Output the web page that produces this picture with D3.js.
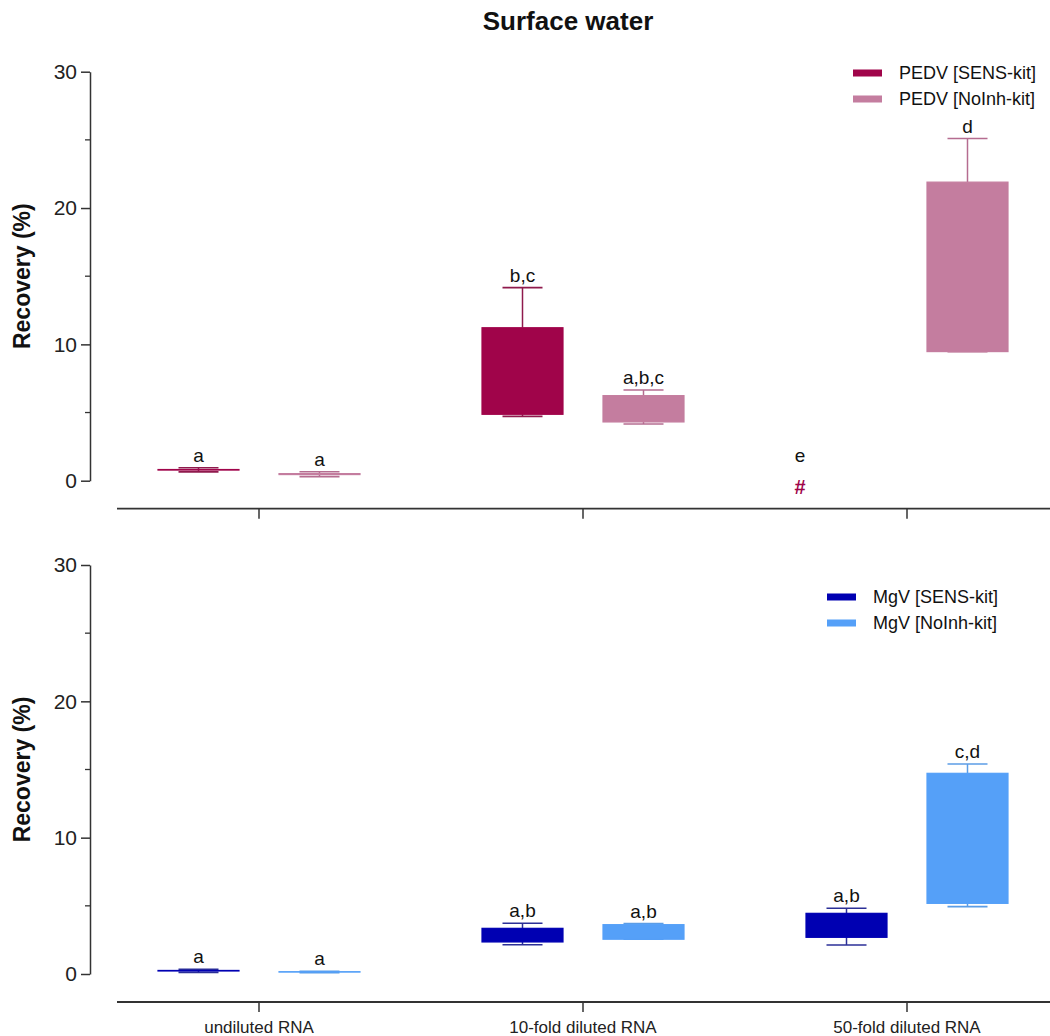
<!DOCTYPE html>
<html>
<head>
<meta charset="utf-8">
<script src="https://cdn.jsdelivr.net/npm/d3@7"></script>
<style>
  html, body { margin: 0; padding: 0; background: #fff; }
  svg { display: block; font-family: "Liberation Sans", Arial, sans-serif; }
</style>
</head>
<body>
<svg id="chart" width="1050" height="1036"></svg>
<script>
// Categories along the x axis
const categories = ["undiluted RNA", "10-fold diluted RNA", "50-fold diluted RNA"];
const kits = ["SENS", "NoInh"];

// Recovery (%) per category: [min, lower quartile, upper quartile, max]; null = not detected
const pedvSens  = [[0.65, 0.78, 0.82, 0.95], [4.72, 4.87, 11.22, 14.16], null];
const pedvNoInh = [[0.30, 0.45, 0.52, 0.66], [4.16, 4.31, 6.24, 6.65], [9.47, 9.47, 21.9, 25.1]];
const mgvSens   = [[0.12, 0.22, 0.26, 0.34], [2.15, 2.35, 3.35, 3.72], [2.13, 2.69, 4.45, 4.82]];
const mgvNoInh  = [[0.10, 0.14, 0.17, 0.20], [2.55, 2.55, 3.62, 3.70], [4.94, 5.18, 14.72, 15.4]];

// Significance letters
const pedvSensLetters  = ["a", "b,c", "e"];
const pedvNoInhLetters = ["a", "a,b,c", "d"];
const mgvSensLetters   = ["a", "a,b", "a,b"];
const mgvNoInhLetters  = ["a", "a,b", "c,d"];

// Axis ticks
const yMajorTicks = [0, 10, 20, 30];
const yMinorTicks = [5, 15, 25];

const svg = d3.select("#chart");

const x0 = d3.scaleBand().domain(categories).range([97, 1069]);
const x1 = d3.scalePoint().domain(kits).range([-60.5, 60.5]);
const boxW = 81, capW = 40;

svg.append("text")
  .attr("x", 568).attr("y", 30)
  .attr("text-anchor", "middle")
  .attr("font-size", 26).attr("font-weight", "bold").attr("fill", "#111")
  .text("Surface water");

const panels = [
  {
    top: 71.7, bottom: 480.7,
    series: [
      { key: "SENS", name: "PEDV [SENS-kit]", data: pedvSens, letters: pedvSensLetters, fill: "#a0044a", line: "#8f1a4d" },
      { key: "NoInh", name: "PEDV [NoInh-kit]", data: pedvNoInh, letters: pedvNoInhLetters, fill: "#c47d9f", line: "#b56c90" }
    ],
    legend: { x: 853, y: 73 },
    showLabels: false
  },
  {
    top: 565, bottom: 974,
    series: [
      { key: "SENS", name: "MgV [SENS-kit]", data: mgvSens, letters: mgvSensLetters, fill: "#0000b2", line: "#2b2f97" },
      { key: "NoInh", name: "MgV [NoInh-kit]", data: mgvNoInh, letters: mgvNoInhLetters, fill: "#55a0f8", line: "#5b9de6" }
    ],
    legend: { x: 827, y: 597 },
    showLabels: true
  }
];

panels.forEach(p => {
  const y = d3.scaleLinear().domain([0, 30]).range([p.bottom, p.top]);
  const g = svg.append("g");

  // y axis
  const yAxis = g.append("g").attr("transform", "translate(90,0)")
    .call(d3.axisLeft(y).tickValues(yMajorTicks).tickSize(9).tickSizeOuter(0).tickPadding(4));
  yAxis.select(".domain").attr("stroke", "#333").attr("stroke-width", 1.5);
  yAxis.selectAll(".tick line").attr("stroke", "#333").attr("stroke-width", 1.5);
  yAxis.selectAll(".tick text").attr("font-size", 21).attr("fill", "#222")
    .attr("font-family", "'Liberation Sans', Arial, sans-serif");
  g.append("g").selectAll("line").data(yMinorTicks).join("line")
    .attr("x1", 85).attr("x2", 90)
    .attr("y1", d => y(d)).attr("y2", d => y(d))
    .attr("stroke", "#333").attr("stroke-width", 1.3);

  g.append("text")
    .attr("transform", `translate(30,${(p.top + p.bottom) / 2}) rotate(-90)`)
    .attr("text-anchor", "middle")
    .attr("font-size", 23).attr("font-weight", "bold").attr("fill", "#111")
    .text("Recovery (%)");

  // x axis, offset below zero
  const axisY = p.bottom + 28;
  const xAxis = g.append("g").attr("transform", `translate(0,${axisY})`)
    .call(d3.axisBottom(x0).tickSize(10).tickSizeOuter(0).tickPadding(9));
  xAxis.select(".domain").remove();
  xAxis.selectAll(".tick line").attr("stroke", "#333").attr("stroke-width", 1.5);
  xAxis.selectAll(".tick text").attr("font-size", 17).attr("fill", "#222")
    .attr("font-family", "'Liberation Sans', Arial, sans-serif")
    .style("display", p.showLabels ? null : "none");
  g.append("line")
    .attr("x1", 117).attr("x2", 1050).attr("y1", axisY).attr("y2", axisY)
    .attr("stroke", "#333").attr("stroke-width", 1.8);

  // boxes with min/max whiskers
  p.series.forEach(s => {
    categories.forEach((c, i) => {
      const cx = x0(c) + x0.bandwidth() / 2 + x1(s.key);
      const d = s.data[i];
      if (!d) {
        // not detected marker
        const mx = x0(c) + x0.bandwidth() / 2 - 107;
        g.append("text").attr("x", mx).attr("y", y(0) + 13)
          .attr("text-anchor", "middle").attr("font-size", 20).attr("font-weight", "bold")
          .attr("fill", s.fill).text("#");
        g.append("text").attr("x", mx).attr("y", y(0) - 19)
          .attr("text-anchor", "middle").attr("font-size", 19).attr("fill", "#111")
          .text(s.letters[i]);
        return;
      }
      const [mn, q1, q3, mx] = d;
      const bg = g.append("g");
      bg.append("line").attr("x1", cx).attr("x2", cx).attr("y1", y(mx)).attr("y2", y(q3))
        .attr("stroke", s.line).attr("stroke-width", 1.5);
      bg.append("line").attr("x1", cx).attr("x2", cx).attr("y1", y(q1)).attr("y2", y(mn))
        .attr("stroke", s.line).attr("stroke-width", 1.5);
      bg.append("line").attr("x1", cx - capW / 2).attr("x2", cx + capW / 2)
        .attr("y1", y(mx)).attr("y2", y(mx)).attr("stroke", s.line).attr("stroke-width", 1.6);
      bg.append("line").attr("x1", cx - capW / 2).attr("x2", cx + capW / 2)
        .attr("y1", y(mn)).attr("y2", y(mn)).attr("stroke", s.line).attr("stroke-width", 1.6);
      bg.append("rect")
        .attr("x", cx - boxW / 2).attr("width", boxW)
        .attr("y", y(q3)).attr("height", Math.max(0.01, y(q1) - y(q3)))
        .attr("fill", s.fill).attr("stroke", s.fill).attr("stroke-width", 1.2);
      g.append("text").attr("x", cx).attr("y", y(mx) - 6)
        .attr("text-anchor", "middle").attr("font-size", 19).attr("fill", "#111")
        .text(s.letters[i]);
    });
  });

  // legend
  const lg = g.append("g").attr("transform", `translate(${p.legend.x},${p.legend.y})`);
  p.series.forEach((s, i) => {
    lg.append("rect").attr("x", 0).attr("y", i * 26 - 3.5).attr("width", 29).attr("height", 7)
      .attr("fill", s.fill);
    lg.append("text").attr("x", 46).attr("y", i * 26 + 6)
      .attr("font-size", 18).attr("fill", "#111").text(s.name);
  });
});
</script>
</body>
</html>
